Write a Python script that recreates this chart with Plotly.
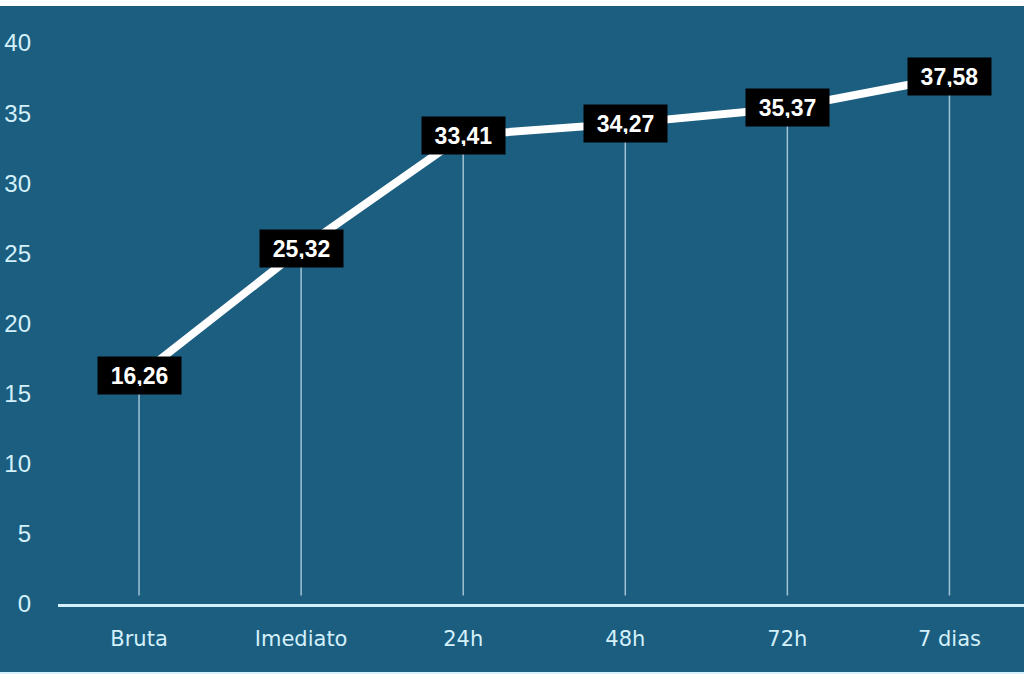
import plotly.graph_objects as go

categories = ["Bruta", "Imediato", "24h", "48h", "72h", "7 dias"]
values = [16.26, 25.32, 33.41, 34.27, 35.37, 37.58]
labels = ["16,26", "25,32", "33,41", "34,27", "35,37", "37,58"]
y_ticks = [0, 5, 10, 15, 20, 25, 30, 35, 40]

bg = "#1b5e80"
pale = "#d4f0fa"

fig = go.Figure()

# thin drop lines from each point to the axis
for cat, val in zip(categories, values):
    fig.add_trace(go.Scatter(
        x=[cat, cat], y=[0.6, val],
        mode="lines",
        line=dict(color="rgba(235,248,255,0.65)", width=1.5),
        hoverinfo="skip", showlegend=False
    ))

fig.add_trace(go.Scatter(
    x=categories, y=values,
    mode="lines",
    line=dict(color="white", width=8),
    showlegend=False
))

for cat, val, lab in zip(categories, values, labels):
    fig.add_annotation(
        x=cat, y=val, text=f"<b>{lab}</b>",
        showarrow=False,
        bgcolor="black",
        font=dict(color="white", size=23, family="Liberation Sans, Arial"),
        width=67, height=21, borderpad=8
    )

# white strips above and below the blue panel
fig.add_shape(type="rect", xref="paper", yref="paper",
              x0=-0.1, x1=1.1, y0=1.0, y1=1.05,
              fillcolor="white", line_width=0, layer="above")
fig.add_shape(type="rect", xref="paper", yref="paper",
              x0=-0.1, x1=1.1, y0=-0.16, y1=-0.1154,
              fillcolor="white", line_width=0, layer="above")
fig.add_shape(type="line", xref="paper", yref="paper",
              x0=-0.1, x1=1.1, y0=-0.1154, y1=-0.1154,
              line=dict(color=pale, width=2))

fig.update_layout(
    width=1024, height=683,
    margin=dict(l=58, r=0, t=6, b=79),
    paper_bgcolor=bg,
    plot_bgcolor=bg,
    font=dict(family="Liberation Sans, Arial", color=pale),
    xaxis=dict(
        range=[-0.5, 5.46],
        showgrid=False, zeroline=False,
        showline=True, linecolor=pale, linewidth=3,
        ticks="", ticklabelstandoff=14,
        tickfont=dict(size=21, color=pale, family="DejaVu Sans")
    ),
    yaxis=dict(
        range=[0, 42.64],
        tickvals=y_ticks,
        showgrid=False, zeroline=False, showline=False,
        ticks="", ticklabelstandoff=26,
        tickfont=dict(size=24, color=pale)
    )
)

fig.write_html("out.html", config={"displayModeBar": False},
               post_script="document.body.style.margin='0';")
